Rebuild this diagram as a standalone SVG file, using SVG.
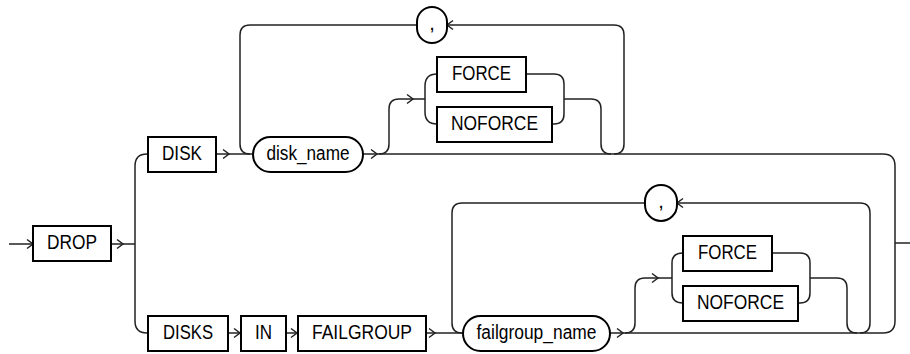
<svg xmlns="http://www.w3.org/2000/svg" width="910" height="354" viewBox="0 0 910 354">
<style>
.box{fill:#fff;stroke:#000;stroke-width:2}
.ln{fill:none;stroke:#222;stroke-width:1.5}
.ar{fill:none;stroke:#222;stroke-width:1.5}
text{font-family:"Liberation Sans",Arial,sans-serif;font-size:20px;fill:#000;text-anchor:middle}
</style>
<defs>
<path id="ar" class="ar" d="M-6,-4.5 L0,0 L-6,4.5"/>
</defs>
<g id="connectors">
<path class="ln" d="M9,244 H33"/>
<path class="ln" d="M111,244 H135"/>
<path class="ln" d="M135,244 V166 Q135,154 147,154 H148"/>
<path class="ln" d="M135,244 V321 Q135,333 147,333 H148"/>
<path class="ln" d="M216,154 H253"/>
<path class="ln" d="M250,154 Q240,154 240,144 V35 Q240,25 250,25 H417"/>
<path class="ln" d="M447,25 H614 Q624,25 624,35 V144 Q624,154 614,154"/>
<path class="ln" d="M363,154 H883 Q895,154 895,166 V321 Q895,333 883,333 H610"/>
<path class="ln" d="M379,154 Q389,154 389,144 V109 Q389,99 399,99 H425"/>
<path class="ln" d="M437,74 Q425,74 425,86 V112 Q425,124 437,124"/>
<path class="ln" d="M526,74 H554 Q564,74 564,84 V114 Q564,124 554,124 H552"/>
<path class="ln" d="M564,99 H591 Q601,99 601,109 V144 Q601,154 611,154"/>
<path class="ln" d="M895,243 H910"/>
<path class="ln" d="M228,333 H241"/>
<path class="ln" d="M286,333 H298"/>
<path class="ln" d="M426,333 H463"/>
<path class="ln" d="M462,333 Q452,333 452,323 V213 Q452,203 462,203 H645"/>
<path class="ln" d="M677,203 H860 Q870,203 870,213 V323 Q870,333 860,333"/>
<path class="ln" d="M625,333 Q635,333 635,323 V288 Q635,278 645,278 H672"/>
<path class="ln" d="M683,253 Q672,253 672,263 V293 Q672,303 683,303"/>
<path class="ln" d="M772,253 H800 Q810,253 810,263 V293 Q810,303 800,303 H798"/>
<path class="ln" d="M810,278 H837 Q847,278 847,288 V323 Q847,333 857,333"/>
<use href="#ar" x="33" y="244"/>
<use href="#ar" x="123" y="244"/>
<use href="#ar" x="229" y="154"/>
<use href="#ar" x="377" y="154"/>
<use href="#ar" x="413" y="99"/>
<use href="#ar" transform="translate(447,25) rotate(180)"/>
<use href="#ar" x="240" y="333"/>
<use href="#ar" x="297" y="333"/>
<use href="#ar" x="435" y="333"/>
<use href="#ar" x="623" y="333"/>
<use href="#ar" x="658" y="278"/>
<use href="#ar" transform="translate(677,203) rotate(180)"/>
</g>
<g id="drop"><rect class="box" x="33" y="226" width="78" height="35"/><text x="72" y="249" textLength="50" lengthAdjust="spacingAndGlyphs">DROP</text></g>
<g id="disk"><rect class="box" x="148" y="137" width="68" height="35"/><text x="182" y="160" textLength="40" lengthAdjust="spacingAndGlyphs">DISK</text></g>
<g id="disk_name"><rect class="box" x="253" y="137" width="110" height="35" rx="17.5"/><text x="308" y="160" textLength="83" lengthAdjust="spacingAndGlyphs">disk_name</text></g>
<g id="comma1"><rect class="box" x="417" y="7" width="30" height="36" rx="15"/><text x="432" y="30">,</text></g>
<g id="force1"><rect class="box" x="437" y="57" width="89" height="35"/><text x="481.5" y="80" textLength="59" lengthAdjust="spacingAndGlyphs">FORCE</text></g>
<g id="noforce1"><rect class="box" x="437" y="107" width="115" height="35"/><text x="494.5" y="130" textLength="87" lengthAdjust="spacingAndGlyphs">NOFORCE</text></g>
<g id="disks"><rect class="box" x="148" y="316" width="80" height="35"/><text x="188" y="339" textLength="50" lengthAdjust="spacingAndGlyphs">DISKS</text></g>
<g id="in"><rect class="box" x="241" y="316" width="45" height="35"/><text x="263.5" y="339" textLength="17" lengthAdjust="spacingAndGlyphs">IN</text></g>
<g id="failgroup"><rect class="box" x="298" y="316" width="128" height="35"/><text x="362" y="339" textLength="100" lengthAdjust="spacingAndGlyphs">FAILGROUP</text></g>
<g id="failgroup_name"><rect class="box" x="463" y="316" width="147" height="35" rx="17.5"/><text x="536.5" y="339" textLength="120" lengthAdjust="spacingAndGlyphs">failgroup_name</text></g>
<g id="comma2"><rect class="box" x="645" y="185" width="32" height="36" rx="16"/><text x="661" y="208">,</text></g>
<g id="force2"><rect class="box" x="683" y="236" width="89" height="35"/><text x="727.5" y="259" textLength="59" lengthAdjust="spacingAndGlyphs">FORCE</text></g>
<g id="noforce2"><rect class="box" x="683" y="286" width="115" height="35"/><text x="740.5" y="309" textLength="87" lengthAdjust="spacingAndGlyphs">NOFORCE</text></g>
</svg>
